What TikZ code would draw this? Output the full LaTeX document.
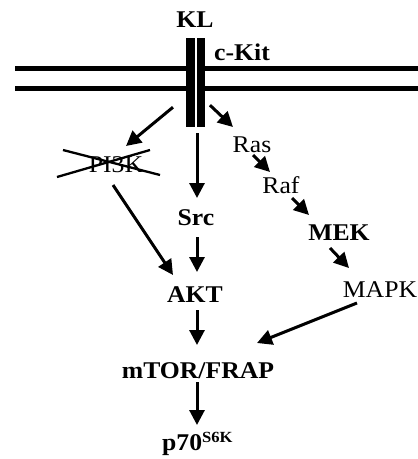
\documentclass[tikz,border=0pt]{standalone}
\usepackage{fontspec}
\setmainfont[FakeStretch=1.07]{Liberation Serif}
\usetikzlibrary{arrows.meta,calc}
\tikzset{
  lbl/.style={inner sep=0pt, anchor=base, font=\fontsize{24}{26}\selectfont},
  blbl/.style={lbl, font=\fontsize{24}{26}\selectfont\bfseries},
  arr/.style={line width=3pt, -{Triangle[length=15pt,width=15pt]}},
  memb/.style={line width=5.5pt},
  cross/.style={line width=2.3pt},
}
\begin{document}
\begin{tikzpicture}[x=1pt,y=-1pt]
\useasboundingbox (0,0) rectangle (418,459);
% membrane
\draw[memb] (15,68.5) -- (418,68.5);
\draw[memb] (15,88.5) -- (418,88.5);
% receptor
\fill[white] (195,38) rectangle (197,127);
\fill[black] (186,38) rectangle (195,127);
\fill[black] (197,38) rectangle (205,127);
\node[inner sep=0pt, minimum width=19pt, minimum height=89pt] (kit) at (195.5,82.5) {};
% labels
\node[blbl] (kl) at (195,27) {KL};
\node[blbl, anchor=base west] (ckit) at (214,60) {c-Kit};
\node[lbl] (pi3k) at (116,172) {PI3K};
\node[lbl] (ras) at (252,152) {Ras};
\node[lbl] (raf) at (281,193) {Raf};
\node[blbl] (mek) at (339,240) {MEK};
\node[lbl] (mapk) at (380,297) {MAPK};
\node[blbl] (src) at (196,225) {Src};
\node[blbl] (akt) at (195,302) {AKT};
\node[blbl] (mtor) at (198,378) {mTOR/FRAP};
\node[blbl, anchor=base west] (p70) at (162,450) {p70\raisebox{8pt}{\fontsize{15.5}{16}\selectfont S6K}};
% cross over PI3K
\draw[cross] ($(pi3k.base)+(-59,5)$) -- ($(pi3k.base)+(34,-22)$);
\draw[cross] ($(pi3k.base)+(-53,-22)$) -- ($(pi3k.base)+(44,3)$);
% arrows
\draw[arr] ($(kit.south)+(-22.5,-20)$) -- ($(pi3k.base)+(10,-26)$);
\draw[arr] ($(kit.south)+(14.5,-22)$) -- ($(ras.base)+(-19,-25)$);
\draw[arr] ($(kit.south)+(1.5,6)$) -- ($(src.base)+(1,-27)$);
\draw[arr] ($(ras.base)+(1,3)$) -- ($(raf.base)+(-11,-21)$);
\draw[arr] ($(raf.base)+(11,5)$) -- ($(mek.base)+(-30,-25)$);
\draw[arr] ($(mek.base)+(-9,8)$) -- ($(mapk.base)+(-31,-29)$);
\draw[arr] ($(pi3k.base)+(-3,13)$) -- ($(akt.base)+(-22,-27)$);
\draw[arr] ($(src.base)+(1,12)$) -- ($(akt.base)+(2,-30)$);
\draw[arr] ($(akt.base)+(2,8)$) -- ($(mtor.base)+(-1,-33)$);
\draw[arr] ($(mapk.base)+(-23,6)$) -- ($(mtor.base)+(59,-35)$);
\draw[arr] ($(mtor.base)+(-1,4)$) -- ($(p70.base west)+(35,-25)$);
\end{tikzpicture}
\end{document}
